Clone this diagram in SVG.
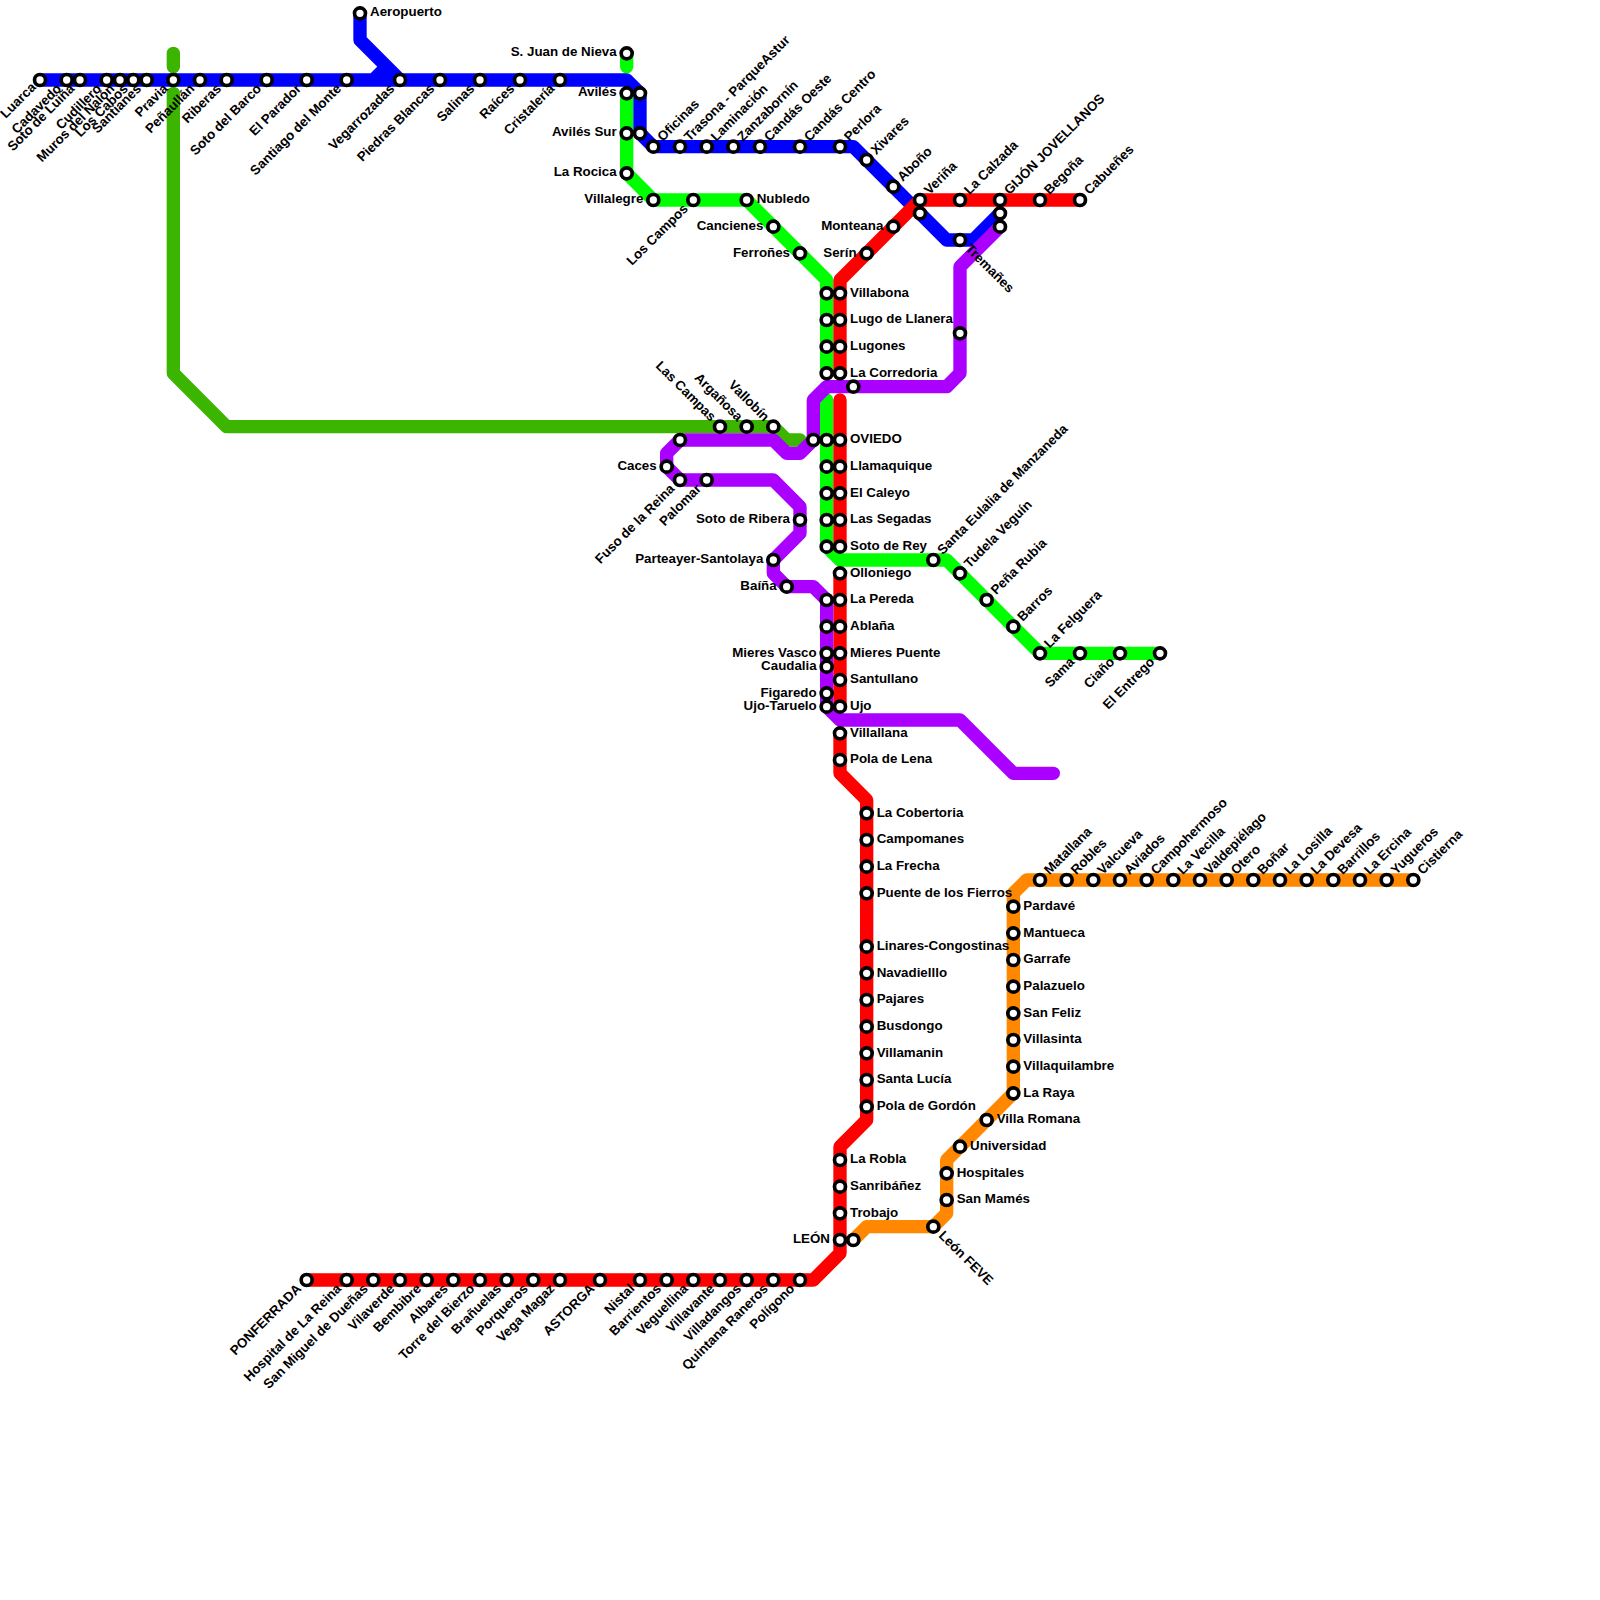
<svg xmlns="http://www.w3.org/2000/svg" width="1600" height="1600" viewBox="0 0 1600 1600">
<style>
.l{fill:none;stroke-width:13.33;stroke-linecap:round;stroke-linejoin:round}
.blue{stroke:#0000ff}.green{stroke:#00ff00}.dark{stroke:#3cb500}.red{stroke:#ff0000}.purple{stroke:#aa00ff}.orange{stroke:#ff8800}
circle{fill:#fff;stroke:#000;stroke-width:3.67}
text{font-family:"Liberation Sans",Arial,sans-serif;font-size:13.33px;font-weight:bold;fill:#000}
.e{text-anchor:end}
</style>
<rect width="1600" height="1600" fill="#fff"/>
<g id="connectors">
<path class="l dark" d="M173.33 53.33V66.67M173.33 93.33V373.33L226.67 426.67H773.33L786.67 440H800"/>
<path class="l green" d="M626.67 53.33V66.67M626.67 93.33V173.33L653.33 200H746.67L826.67 280V373.33M826.67 400V546.67L840 560H946.67L1040 653.33H1160"/>
<path class="l blue" d="M40 80H626.67L640 93.33V133.33L653.33 146.67H853.33L946.67 240H973.33L1000 213.33M360 13.33V40L400 80M373.33 80L386.67 66.67"/>
<path class="l red" d="M306.67 1280H813.33L840 1253.33V1146.67L866.67 1120V800L840 773.33V733.33M840 706.67V573.33M840 546.67V400M840 373.33V280L920 200H1080"/>
<path class="l purple" d="M1053.33 773.33H1013.33L960 720H840L826.67 706.67V600L813.33 586.67H786.67L773.33 573.33V560L800 533.33V506.67L773.33 480H680L666.67 466.67V453.33L680 440H773.33L786.67 453.33H800L813.33 440V400L826.67 386.67H946.67L960 373.33V266.67L1000 226.67"/>
<path class="l orange" d="M853.33 1240L866.67 1226.67H933.33L946.67 1213.33V1160L1013.33 1093.33V893.33L1026.67 880H1413.33"/>
</g>
<g id="luarca"><circle cx="40" cy="80" r="5.5"/><text class="e" transform="translate(40 80) rotate(-45)" x="-8" y="3.4">Luarca</text></g>
<g id="cadavedo"><circle cx="66.67" cy="80" r="5.5"/><text class="e" transform="translate(66.67 80) rotate(-45)" x="-10" y="3.4">Cadavedo</text></g>
<g id="soto-de-luina"><circle cx="80" cy="80" r="5.5"/><text class="e" transform="translate(80 80) rotate(-45)" x="-10" y="3.4">Soto de Luiña</text></g>
<g id="cudillero"><circle cx="106.67" cy="80" r="5.5"/><text class="e" transform="translate(106.67 80) rotate(-45)" x="-10" y="3.4">Cudillero</text></g>
<g id="muros"><circle cx="120" cy="80" r="5.5"/><text class="e" transform="translate(120 80) rotate(-45)" x="-10" y="3.4">Muros del Nalón</text></g>
<g id="los-cabos"><circle cx="133.33" cy="80" r="5.5"/><text class="e" transform="translate(133.33 80) rotate(-45)" x="-10" y="3.4">Los Cabos</text></g>
<g id="santianes"><circle cx="146.67" cy="80" r="5.5"/><text class="e" transform="translate(146.67 80) rotate(-45)" x="-10" y="3.4">Santianes</text></g>
<g id="pravia"><circle cx="173.33" cy="80" r="5.5"/><text class="e" transform="translate(173.33 80) rotate(-45)" x="-10" y="3.4">Pravia</text></g>
<g id="penaullan"><circle cx="200" cy="80" r="5.5"/><text class="e" transform="translate(200 80) rotate(-45)" x="-10" y="3.4">Peñaullán</text></g>
<g id="riberas"><circle cx="226.67" cy="80" r="5.5"/><text class="e" transform="translate(226.67 80) rotate(-45)" x="-10" y="3.4">Riberas</text></g>
<g id="soto-del-barco"><circle cx="266.67" cy="80" r="5.5"/><text class="e" transform="translate(266.67 80) rotate(-45)" x="-10" y="3.4">Soto del Barco</text></g>
<g id="el-parador"><circle cx="306.67" cy="80" r="5.5"/><text class="e" transform="translate(306.67 80) rotate(-45)" x="-10" y="3.4">El Parador</text></g>
<g id="santiago-del-monte"><circle cx="346.67" cy="80" r="5.5"/><text class="e" transform="translate(346.67 80) rotate(-45)" x="-10" y="3.4">Santiago del Monte</text></g>
<g id="vegarrozadas"><circle cx="400" cy="80" r="5.5"/><text class="e" transform="translate(400 80) rotate(-45)" x="-10" y="3.4">Vegarrozadas</text></g>
<g id="piedras-blancas"><circle cx="440" cy="80" r="5.5"/><text class="e" transform="translate(440 80) rotate(-45)" x="-10" y="3.4">Piedras Blancas</text></g>
<g id="salinas"><circle cx="480" cy="80" r="5.5"/><text class="e" transform="translate(480 80) rotate(-45)" x="-10" y="3.4">Salinas</text></g>
<g id="raices"><circle cx="520" cy="80" r="5.5"/><text class="e" transform="translate(520 80) rotate(-45)" x="-10" y="3.4">Raíces</text></g>
<g id="cristaleria"><circle cx="560" cy="80" r="5.5"/><text class="e" transform="translate(560 80) rotate(-45)" x="-10" y="3.4">Cristalería</text></g>
<g id="aeropuerto"><circle cx="360" cy="13.33" r="5.5"/><text x="370" y="16.33">Aeropuerto</text></g>
<g id="aviles-blue"><circle cx="640" cy="93.33" r="5.5"/></g>
<g id="aviles-sur-blue"><circle cx="640" cy="133.33" r="5.5"/></g>
<g id="oficinas"><circle cx="653.33" cy="146.67" r="5.5"/><text transform="translate(653.33 146.67) rotate(-45)" x="10" y="3.4">Oficinas</text></g>
<g id="trasona"><circle cx="680" cy="146.67" r="5.5"/><text transform="translate(680 146.67) rotate(-45)" x="10" y="3.4">Trasona - ParqueAstur</text></g>
<g id="laminacion"><circle cx="706.67" cy="146.67" r="5.5"/><text transform="translate(706.67 146.67) rotate(-45)" x="10" y="3.4">Laminación</text></g>
<g id="zanzabornin"><circle cx="733.33" cy="146.67" r="5.5"/><text transform="translate(733.33 146.67) rotate(-45)" x="10" y="3.4">Zanzabornín</text></g>
<g id="candas-oeste"><circle cx="760" cy="146.67" r="5.5"/><text transform="translate(760 146.67) rotate(-45)" x="10" y="3.4">Candás Oeste</text></g>
<g id="candas-centro"><circle cx="800" cy="146.67" r="5.5"/><text transform="translate(800 146.67) rotate(-45)" x="10" y="3.4">Candás Centro</text></g>
<g id="perlora"><circle cx="840" cy="146.67" r="5.5"/><text transform="translate(840 146.67) rotate(-45)" x="10" y="3.4">Perlora</text></g>
<g id="xivares"><circle cx="866.67" cy="160" r="5.5"/><text transform="translate(866.67 160) rotate(-45)" x="10" y="3.4">Xivares</text></g>
<g id="abono"><circle cx="893.33" cy="186.67" r="5.5"/><text transform="translate(893.33 186.67) rotate(-45)" x="10" y="3.4">Aboño</text></g>
<g id="verina-blue"><circle cx="920" cy="213.33" r="5.5"/></g>
<g id="tremanes"><circle cx="960" cy="240" r="5.5"/><text transform="translate(960 240) rotate(45)" x="10" y="3.4">Tremañes</text></g>
<g id="gijon-blue"><circle cx="1000" cy="213.33" r="5.5"/></g>
<g id="gijon-purple"><circle cx="1000" cy="226.67" r="5.5"/></g>
<g id="verina"><circle cx="920" cy="200" r="5.5"/><text transform="translate(920 200) rotate(-45)" x="10" y="3.4">Veriña</text></g>
<g id="la-calzada"><circle cx="960" cy="200" r="5.5"/><text transform="translate(960 200) rotate(-45)" x="10" y="3.4">La Calzada</text></g>
<g id="gijon"><circle cx="1000" cy="200" r="5.5"/><text transform="translate(1000 200) rotate(-45)" x="10" y="3.4">GIJÓN JOVELLANOS</text></g>
<g id="begona"><circle cx="1040" cy="200" r="5.5"/><text transform="translate(1040 200) rotate(-45)" x="10" y="3.4">Begoña</text></g>
<g id="cabuenes"><circle cx="1080" cy="200" r="5.5"/><text transform="translate(1080 200) rotate(-45)" x="10" y="3.4">Cabueñes</text></g>
<g id="s-juan"><circle cx="626.67" cy="53.33" r="5.5"/><text class="e" x="616.67" y="56.33">S. Juan de Nieva</text></g>
<g id="aviles"><circle cx="626.67" cy="93.33" r="5.5"/><text class="e" x="616.67" y="96.33">Avilés</text></g>
<g id="aviles-sur"><circle cx="626.67" cy="133.33" r="5.5"/><text class="e" x="616.67" y="136.33">Avilés Sur</text></g>
<g id="la-rocica"><circle cx="626.67" cy="173.33" r="5.5"/><text class="e" x="616.67" y="176.33">La Rocica</text></g>
<g id="villalegre"><circle cx="653.33" cy="200" r="5.5"/><text class="e" x="643.33" y="203.33">Villalegre</text></g>
<g id="los-campos"><circle cx="693.33" cy="200" r="5.5"/><text class="e" transform="translate(693.33 200) rotate(-45)" x="-10" y="3.4">Los Campos</text></g>
<g id="nubledo"><circle cx="746.67" cy="200" r="5.5"/><text x="756.67" y="203.33">Nubledo</text></g>
<g id="cancienes"><circle cx="773.33" cy="226.67" r="5.5"/><text class="e" x="763.33" y="230">Cancienes</text></g>
<g id="ferrones"><circle cx="800" cy="253.33" r="5.5"/><text class="e" x="790" y="256.67">Ferroñes</text></g>
<g id="monteana"><circle cx="893.33" cy="226.67" r="5.5"/><text class="e" x="883.33" y="230">Monteana</text></g>
<g id="serin"><circle cx="866.67" cy="253.33" r="5.5"/><text class="e" x="856.67" y="256.67">Serín</text></g>
<g id="g1"><circle cx="826.67" cy="293.33" r="5.5"/></g>
<g id="g2"><circle cx="826.67" cy="320" r="5.5"/></g>
<g id="g3"><circle cx="826.67" cy="346.67" r="5.5"/></g>
<g id="g4"><circle cx="826.67" cy="373.33" r="5.5"/></g>
<g id="villabona"><circle cx="840" cy="293.33" r="5.5"/><text x="850" y="296.67">Villabona</text></g>
<g id="lugo"><circle cx="840" cy="320" r="5.5"/><text x="850" y="323.33">Lugo de Llanera</text></g>
<g id="lugones"><circle cx="840" cy="346.67" r="5.5"/><text x="850" y="350">Lugones</text></g>
<g id="la-corredoria"><circle cx="840" cy="373.33" r="5.5"/><text x="850" y="376.67">La Corredoria</text></g>
<g id="p-corredoria"><circle cx="853.33" cy="386.67" r="5.5"/></g>
<g id="p-lugo"><circle cx="960" cy="333.33" r="5.5"/></g>
<g id="las-campas"><circle cx="720" cy="426.67" r="5.5"/><text class="e" transform="translate(720 426.67) rotate(45)" x="-10" y="3.4">Las Campas</text></g>
<g id="arganosa"><circle cx="746.67" cy="426.67" r="5.5"/><text class="e" transform="translate(746.67 426.67) rotate(45)" x="-10" y="3.4">Argañosa</text></g>
<g id="vallobin"><circle cx="773.33" cy="426.67" r="5.5"/><text class="e" transform="translate(773.33 426.67) rotate(45)" x="-10" y="3.4">Vallobín</text></g>
<g id="p-oviedo"><circle cx="813.33" cy="440" r="5.5"/></g>
<g id="g-oviedo"><circle cx="826.67" cy="440" r="5.5"/></g>
<g id="oviedo"><circle cx="840" cy="440" r="5.5"/><text x="850" y="443.33">OVIEDO</text></g>
<g id="g-llama"><circle cx="826.67" cy="466.67" r="5.5"/></g>
<g id="llamaquique"><circle cx="840" cy="466.67" r="5.5"/><text x="850" y="470">Llamaquique</text></g>
<g id="g-caleyo"><circle cx="826.67" cy="493.33" r="5.5"/></g>
<g id="el-caleyo"><circle cx="840" cy="493.33" r="5.5"/><text x="850" y="496.67">El Caleyo</text></g>
<g id="g-segadas"><circle cx="826.67" cy="520" r="5.5"/></g>
<g id="las-segadas"><circle cx="840" cy="520" r="5.5"/><text x="850" y="523.33">Las Segadas</text></g>
<g id="g-soto"><circle cx="826.67" cy="546.67" r="5.5"/></g>
<g id="soto-de-rey"><circle cx="840" cy="546.67" r="5.5"/><text x="850" y="550">Soto de Rey</text></g>
<g id="santa-eulalia"><circle cx="933.33" cy="560" r="5.5"/><text transform="translate(933.33 560) rotate(-45)" x="10" y="3.4">Santa Eulalia de Manzaneda</text></g>
<g id="tudela"><circle cx="960" cy="573.33" r="5.5"/><text transform="translate(960 573.33) rotate(-45)" x="10" y="3.4">Tudela Veguín</text></g>
<g id="pena-rubia"><circle cx="986.67" cy="600" r="5.5"/><text transform="translate(986.67 600) rotate(-45)" x="10" y="3.4">Peña Rubia</text></g>
<g id="barros"><circle cx="1013.33" cy="626.67" r="5.5"/><text transform="translate(1013.33 626.67) rotate(-45)" x="10" y="3.4">Barros</text></g>
<g id="la-felguera"><circle cx="1040" cy="653.33" r="5.5"/><text transform="translate(1040 653.33) rotate(-45)" x="10" y="3.4">La Felguera</text></g>
<g id="sama"><circle cx="1080" cy="653.33" r="5.5"/><text class="e" transform="translate(1080 653.33) rotate(-45)" x="-10" y="3.4">Sama</text></g>
<g id="ciano"><circle cx="1120" cy="653.33" r="5.5"/><text class="e" transform="translate(1120 653.33) rotate(-45)" x="-10" y="3.4">Ciaño</text></g>
<g id="el-entrego"><circle cx="1160" cy="653.33" r="5.5"/><text class="e" transform="translate(1160 653.33) rotate(-45)" x="-10" y="3.4">El Entrego</text></g>
<g id="p-680"><circle cx="680" cy="440" r="5.5"/></g>
<g id="caces"><circle cx="666.67" cy="466.67" r="5.5"/><text class="e" x="656.67" y="470">Caces</text></g>
<g id="fuso"><circle cx="680" cy="480" r="5.5"/><text class="e" transform="translate(680 480) rotate(-45)" x="-10" y="3.4">Fuso de la Reina</text></g>
<g id="palomar"><circle cx="706.67" cy="480" r="5.5"/><text class="e" transform="translate(706.67 480) rotate(-45)" x="-10" y="3.4">Palomar</text></g>
<g id="soto-de-ribera"><circle cx="800" cy="520" r="5.5"/><text class="e" x="790" y="523.33">Soto de Ribera</text></g>
<g id="parteayer"><circle cx="773.33" cy="560" r="5.5"/><text class="e" x="763.33" y="563.33">Parteayer-Santolaya</text></g>
<g id="baina"><circle cx="786.67" cy="586.67" r="5.5"/><text class="e" x="776.67" y="590">Baíña</text></g>
<g id="p-pereda"><circle cx="826.67" cy="600" r="5.5"/></g>
<g id="p-ablana"><circle cx="826.67" cy="626.67" r="5.5"/></g>
<g id="mieres-vasco"><circle cx="826.67" cy="653.33" r="5.5"/><text class="e" x="816.67" y="656.67">Mieres Vasco</text></g>
<g id="caudalia"><circle cx="826.67" cy="666.67" r="5.5"/><text class="e" x="816.67" y="670">Caudalia</text></g>
<g id="figaredo"><circle cx="826.67" cy="693.33" r="5.5"/><text class="e" x="816.67" y="696.67">Figaredo</text></g>
<g id="ujo-taruelo"><circle cx="826.67" cy="706.67" r="5.5"/><text class="e" x="816.67" y="710">Ujo-Taruelo</text></g>
<g id="olloniego"><circle cx="840" cy="573.33" r="5.5"/><text x="850" y="576.67">Olloniego</text></g>
<g id="la-pereda"><circle cx="840" cy="600" r="5.5"/><text x="850" y="603.33">La Pereda</text></g>
<g id="ablana"><circle cx="840" cy="626.67" r="5.5"/><text x="850" y="630">Ablaña</text></g>
<g id="mieres-puente"><circle cx="840" cy="653.33" r="5.5"/><text x="850" y="656.67">Mieres Puente</text></g>
<g id="santullano"><circle cx="840" cy="680" r="5.5"/><text x="850" y="683.33">Santullano</text></g>
<g id="ujo"><circle cx="840" cy="706.67" r="5.5"/><text x="850" y="710">Ujo</text></g>
<g id="villallana"><circle cx="840" cy="733.33" r="5.5"/><text x="850" y="736.67">Villallana</text></g>
<g id="pola-de-lena"><circle cx="840" cy="760" r="5.5"/><text x="850" y="763.33">Pola de Lena</text></g>
<g id="la-cobertoria"><circle cx="866.67" cy="813.33" r="5.5"/><text x="876.67" y="816.67">La Cobertoria</text></g>
<g id="campomanes"><circle cx="866.67" cy="840" r="5.5"/><text x="876.67" y="843.33">Campomanes</text></g>
<g id="la-frecha"><circle cx="866.67" cy="866.67" r="5.5"/><text x="876.67" y="870">La Frecha</text></g>
<g id="puente-fierros"><circle cx="866.67" cy="893.33" r="5.5"/><text x="876.67" y="896.67">Puente de los Fierros</text></g>
<g id="linares"><circle cx="866.67" cy="946.67" r="5.5"/><text x="876.67" y="950">Linares-Congostinas</text></g>
<g id="navadiello"><circle cx="866.67" cy="973.33" r="5.5"/><text x="876.67" y="976.67">Navadielllo</text></g>
<g id="pajares"><circle cx="866.67" cy="1000" r="5.5"/><text x="876.67" y="1003.33">Pajares</text></g>
<g id="busdongo"><circle cx="866.67" cy="1026.67" r="5.5"/><text x="876.67" y="1030">Busdongo</text></g>
<g id="villamanin"><circle cx="866.67" cy="1053.33" r="5.5"/><text x="876.67" y="1056.67">Villamanin</text></g>
<g id="santa-lucia"><circle cx="866.67" cy="1080" r="5.5"/><text x="876.67" y="1083.33">Santa Lucía</text></g>
<g id="pola-de-gordon"><circle cx="866.67" cy="1106.67" r="5.5"/><text x="876.67" y="1110">Pola de Gordón</text></g>
<g id="la-robla"><circle cx="840" cy="1160" r="5.5"/><text x="850" y="1163.33">La Robla</text></g>
<g id="sanribanez"><circle cx="840" cy="1186.67" r="5.5"/><text x="850" y="1190">Sanribáñez</text></g>
<g id="trobajo"><circle cx="840" cy="1213.33" r="5.5"/><text x="850" y="1216.67">Trobajo</text></g>
<g id="leon"><circle cx="840" cy="1240" r="5.5"/><text class="e" x="830" y="1243.33">LEÓN</text></g>
<g id="leon-orange"><circle cx="853.33" cy="1240" r="5.5"/></g>
<g id="leon-feve"><circle cx="933.33" cy="1226.67" r="5.5"/><text transform="translate(933.33 1226.67) rotate(45)" x="10" y="3.4">León FEVE</text></g>
<g id="san-mames"><circle cx="946.67" cy="1200" r="5.5"/><text x="956.67" y="1203.33">San Mamés</text></g>
<g id="hospitales"><circle cx="946.67" cy="1173.33" r="5.5"/><text x="956.67" y="1176.67">Hospitales</text></g>
<g id="universidad"><circle cx="960" cy="1146.67" r="5.5"/><text x="970" y="1150">Universidad</text></g>
<g id="villa-romana"><circle cx="986.67" cy="1120" r="5.5"/><text x="996.67" y="1123.33">Villa Romana</text></g>
<g id="la-raya"><circle cx="1013.33" cy="1093.33" r="5.5"/><text x="1023.33" y="1096.67">La Raya</text></g>
<g id="villaquilambre"><circle cx="1013.33" cy="1066.67" r="5.5"/><text x="1023.33" y="1070">Villaquilambre</text></g>
<g id="villasinta"><circle cx="1013.33" cy="1040" r="5.5"/><text x="1023.33" y="1043.33">Villasinta</text></g>
<g id="san-feliz"><circle cx="1013.33" cy="1013.33" r="5.5"/><text x="1023.33" y="1016.67">San Feliz</text></g>
<g id="palazuelo"><circle cx="1013.33" cy="986.67" r="5.5"/><text x="1023.33" y="990">Palazuelo</text></g>
<g id="garrafe"><circle cx="1013.33" cy="960" r="5.5"/><text x="1023.33" y="963.33">Garrafe</text></g>
<g id="mantueca"><circle cx="1013.33" cy="933.33" r="5.5"/><text x="1023.33" y="936.67">Mantueca</text></g>
<g id="pardave"><circle cx="1013.33" cy="906.67" r="5.5"/><text x="1023.33" y="910">Pardavé</text></g>
<g id="matallana"><circle cx="1040" cy="880" r="5.5"/><text transform="translate(1040 880) rotate(-45)" x="10" y="3.4">Matallana</text></g>
<g id="robles"><circle cx="1066.67" cy="880" r="5.5"/><text transform="translate(1066.67 880) rotate(-45)" x="10" y="3.4">Robles</text></g>
<g id="valcueva"><circle cx="1093.33" cy="880" r="5.5"/><text transform="translate(1093.33 880) rotate(-45)" x="10" y="3.4">Valcueva</text></g>
<g id="aviados"><circle cx="1120" cy="880" r="5.5"/><text transform="translate(1120 880) rotate(-45)" x="10" y="3.4">Aviados</text></g>
<g id="campohermoso"><circle cx="1146.67" cy="880" r="5.5"/><text transform="translate(1146.67 880) rotate(-45)" x="10" y="3.4">Campohermoso</text></g>
<g id="la-vecilla"><circle cx="1173.33" cy="880" r="5.5"/><text transform="translate(1173.33 880) rotate(-45)" x="10" y="3.4">La Vecilla</text></g>
<g id="valdepielago"><circle cx="1200" cy="880" r="5.5"/><text transform="translate(1200 880) rotate(-45)" x="10" y="3.4">Valdepiélago</text></g>
<g id="otero"><circle cx="1226.67" cy="880" r="5.5"/><text transform="translate(1226.67 880) rotate(-45)" x="10" y="3.4">Otero</text></g>
<g id="bonar"><circle cx="1253.33" cy="880" r="5.5"/><text transform="translate(1253.33 880) rotate(-45)" x="10" y="3.4">Boñar</text></g>
<g id="la-losilla"><circle cx="1280" cy="880" r="5.5"/><text transform="translate(1280 880) rotate(-45)" x="10" y="3.4">La Losilla</text></g>
<g id="la-devesa"><circle cx="1306.67" cy="880" r="5.5"/><text transform="translate(1306.67 880) rotate(-45)" x="10" y="3.4">La Devesa</text></g>
<g id="barrillos"><circle cx="1333.33" cy="880" r="5.5"/><text transform="translate(1333.33 880) rotate(-45)" x="10" y="3.4">Barrillos</text></g>
<g id="la-ercina"><circle cx="1360" cy="880" r="5.5"/><text transform="translate(1360 880) rotate(-45)" x="10" y="3.4">La Ercina</text></g>
<g id="yugueros"><circle cx="1386.67" cy="880" r="5.5"/><text transform="translate(1386.67 880) rotate(-45)" x="10" y="3.4">Yugueros</text></g>
<g id="cistierna"><circle cx="1413.33" cy="880" r="5.5"/><text transform="translate(1413.33 880) rotate(-45)" x="10" y="3.4">Cistierna</text></g>
<g id="ponferrada"><circle cx="306.67" cy="1280" r="5.5"/><text class="e" transform="translate(306.67 1280) rotate(-45)" x="-10" y="3.4">PONFERRADA</text></g>
<g id="hospital-reina"><circle cx="346.67" cy="1280" r="5.5"/><text class="e" transform="translate(346.67 1280) rotate(-45)" x="-10" y="3.4">Hospital de La Reina</text></g>
<g id="san-miguel"><circle cx="373.33" cy="1280" r="5.5"/><text class="e" transform="translate(373.33 1280) rotate(-45)" x="-10" y="3.4">San Miguel de Dueñas</text></g>
<g id="vilaverde"><circle cx="400" cy="1280" r="5.5"/><text class="e" transform="translate(400 1280) rotate(-45)" x="-10" y="3.4">Vilaverde</text></g>
<g id="bembibre"><circle cx="426.67" cy="1280" r="5.5"/><text class="e" transform="translate(426.67 1280) rotate(-45)" x="-10" y="3.4">Bembibre</text></g>
<g id="albares"><circle cx="453.33" cy="1280" r="5.5"/><text class="e" transform="translate(453.33 1280) rotate(-45)" x="-10" y="3.4">Albares</text></g>
<g id="torre-bierzo"><circle cx="480" cy="1280" r="5.5"/><text class="e" transform="translate(480 1280) rotate(-45)" x="-10" y="3.4">Torre del Bierzo</text></g>
<g id="branuelas"><circle cx="506.67" cy="1280" r="5.5"/><text class="e" transform="translate(506.67 1280) rotate(-45)" x="-10" y="3.4">Brañuelas</text></g>
<g id="porqueros"><circle cx="533.33" cy="1280" r="5.5"/><text class="e" transform="translate(533.33 1280) rotate(-45)" x="-10" y="3.4">Porqueros</text></g>
<g id="vega-magaz"><circle cx="560" cy="1280" r="5.5"/><text class="e" transform="translate(560 1280) rotate(-45)" x="-10" y="3.4">Vega Magaz</text></g>
<g id="astorga"><circle cx="600" cy="1280" r="5.5"/><text class="e" transform="translate(600 1280) rotate(-45)" x="-10" y="3.4">ASTORGA</text></g>
<g id="nistal"><circle cx="640" cy="1280" r="5.5"/><text class="e" transform="translate(640 1280) rotate(-45)" x="-10" y="3.4">Nistal</text></g>
<g id="barrientos"><circle cx="666.67" cy="1280" r="5.5"/><text class="e" transform="translate(666.67 1280) rotate(-45)" x="-10" y="3.4">Barrientos</text></g>
<g id="veguellina"><circle cx="693.33" cy="1280" r="5.5"/><text class="e" transform="translate(693.33 1280) rotate(-45)" x="-10" y="3.4">Veguellina</text></g>
<g id="villavante"><circle cx="720" cy="1280" r="5.5"/><text class="e" transform="translate(720 1280) rotate(-45)" x="-10" y="3.4">Villavante</text></g>
<g id="villadangos"><circle cx="746.67" cy="1280" r="5.5"/><text class="e" transform="translate(746.67 1280) rotate(-45)" x="-10" y="3.4">Villadangos</text></g>
<g id="quintana"><circle cx="773.33" cy="1280" r="5.5"/><text class="e" transform="translate(773.33 1280) rotate(-45)" x="-10" y="3.4">Quintana Raneros</text></g>
<g id="poligono"><circle cx="800" cy="1280" r="5.5"/><text class="e" transform="translate(800 1280) rotate(-45)" x="-10" y="3.4">Polígono</text></g>
</svg>
